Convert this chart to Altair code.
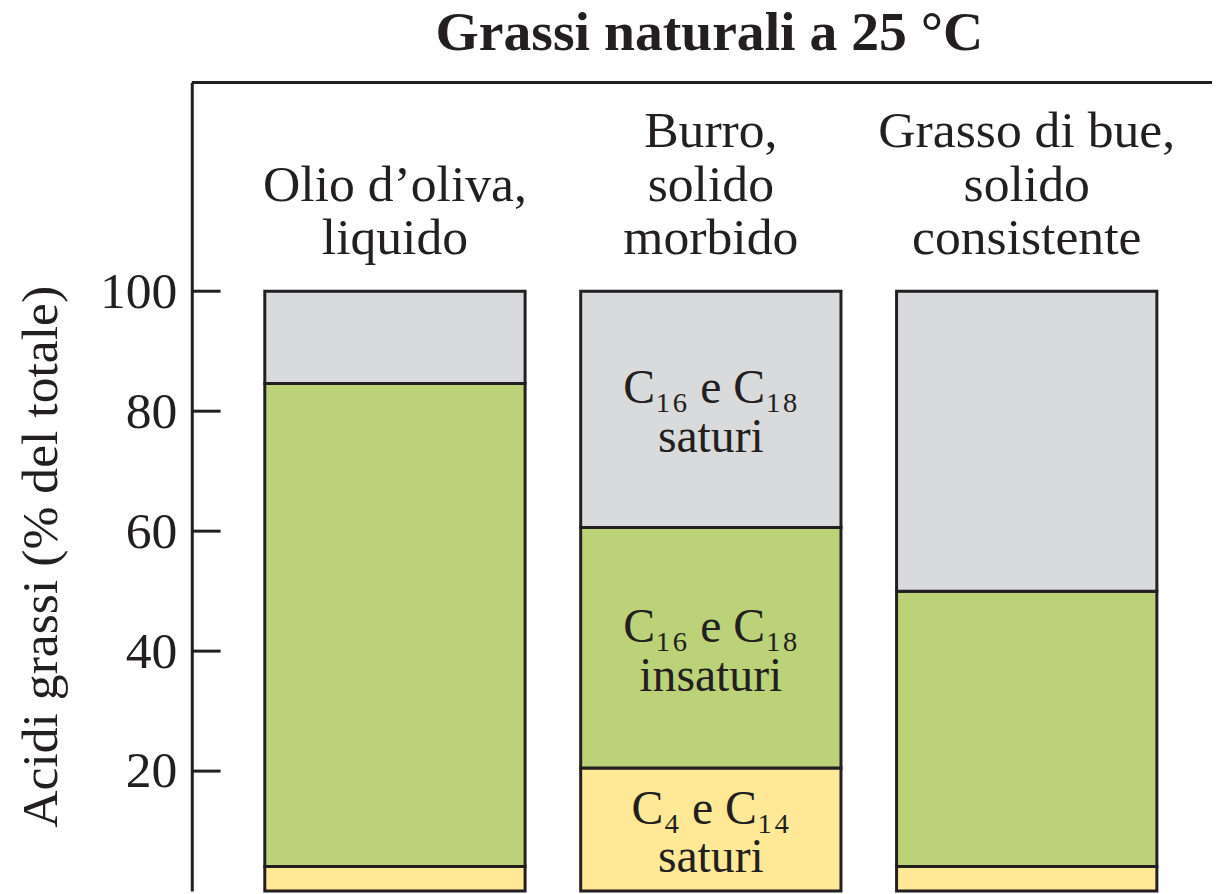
import altair as alt
import pandas as pd

# ---- data ----
title_text = ["Grassi naturali a 25 °C"]
categories = ["Olio d’oliva,|liquido", "Burro,|solido|morbido", "Grasso di bue,|solido|consistente"]
segments = ["C4 e C14 saturi", "C16 e C18 insaturi", "C16 e C18 saturi"]
seg_colors = ["#ffe996", "#bcd278", "#d9dadc"]
short_saturated = [4.1, 20.5, 4.1]
unsaturated = [80.5, 40.1, 45.9]
long_saturated = [15.4, 39.4, 50.0]
segment_labels = ["C₄ e C₁₄|saturi", "C₁₆ e C₁₈|insaturi", "C₁₆ e C₁₈|saturi"]
labelled_category = categories[1]
y_ticks = [20, 40, 60, 80, 100]

FONT = "Liberation Serif"
INK = "#231f20"
W, H = 1027, 814

rows = []
series = [short_saturated, unsaturated, long_saturated]
for i, cat in enumerate(categories):
    for j, seg in enumerate(segments):
        rows.append({
            "category": cat,
            "segment": seg,
            "order": j,
            "value": series[j][i],
            "label": segment_labels[j] if cat == labelled_category else "",
        })
df = pd.DataFrame(rows)
cat_df = pd.DataFrame({"category": categories})

Y_TITLE = "Acidi grassi (% del totale)"

x_enc = alt.X(
    "category:N",
    sort=categories,
    scale=alt.Scale(domain=categories, range=[73.5, 971.5], paddingInner=0.176,
                    paddingOuter=0, round=False),
    axis=None,
)

y_scale = alt.Scale(domain=[0, 134.8], nice=False, zero=True)
y_axis = alt.Axis(
    values=y_ticks, ticks=False, grid=False,
    domain=True, domainWidth=3, domainColor=INK,
    labelFont=FONT, labelFontSize=52, labelColor=INK, labelPadding=15,
    title=Y_TITLE, titleFont=FONT, titleFontSize=52, titleFontWeight="normal",
    titleColor=INK, titleAngle=270, titleAlign="center", titleBaseline="alphabetic",
    titleX=-136, titleY=477,
)

base = alt.Chart(df).transform_stack(
    stack="value", groupby=["category"], as_=["v0", "v1"], sort=[alt.SortField("order")]
).transform_calculate(mid="(datum.v0 + datum.v1) / 2")

bars = base.mark_bar(stroke=INK, strokeWidth=3).encode(
    x=x_enc,
    y=alt.Y("v0:Q", scale=y_scale, axis=y_axis, title=Y_TITLE),
    y2="v1:Q",
    color=alt.Color("segment:N", scale=alt.Scale(domain=segments, range=seg_colors), legend=None),
)

texts = base.transform_filter(alt.datum.label != "").mark_text(
    font=FONT, fontSize=48, lineBreak="|", lineHeight=49, baseline="middle",
    dy=-20, color=INK
).encode(
    x=x_enc,
    y=alt.Y("mid:Q", scale=y_scale, title=Y_TITLE),
    text="label:N",
)

# category names, bottom-aligned: pad shorter names with empty leading lines
cat_labels = alt.Chart(cat_df).transform_calculate(
    padded="length(split(datum.category, '|')) < 3 ? '|' + datum.category : datum.category"
).mark_text(
    font=FONT, fontSize=52, lineBreak="|", lineHeight=54, baseline="alphabetic",
    align="center", color=INK
).encode(
    x=x_enc,
    y=alt.value(65),
    text="padded:N",
)

ticks = alt.Chart(pd.DataFrame({"tick": y_ticks})).mark_rule(stroke=INK, strokeWidth=3).encode(
    y=alt.Y("tick:Q", scale=y_scale, title=Y_TITLE),
    x=alt.value(0),
    x2=alt.value(29),
)

frame = alt.Chart(pd.DataFrame({"a": [0]})).mark_rule(stroke=INK, strokeWidth=3).encode(
    y=alt.value(0),
    x=alt.value(0),
    x2=alt.value(W),
)

title = alt.Chart(pd.DataFrame({"t": title_text})).mark_text(
    font=FONT, fontSize=56, fontWeight="bold", color=INK,
    align="center", baseline="alphabetic"
).encode(
    x=alt.value(521),
    y=alt.value(-33),
    text="t:N",
)

chart = alt.layer(bars, texts, cat_labels, ticks, frame, title).properties(
    width=W,
    height=H,
    autosize=alt.AutoSizeParams(type="none"),
    padding={"left": 185, "top": 72, "right": 0, "bottom": 0},
).configure_view(stroke=None)

chart.save("out.html", embed_options={"renderer": "svg", "actions": False})
